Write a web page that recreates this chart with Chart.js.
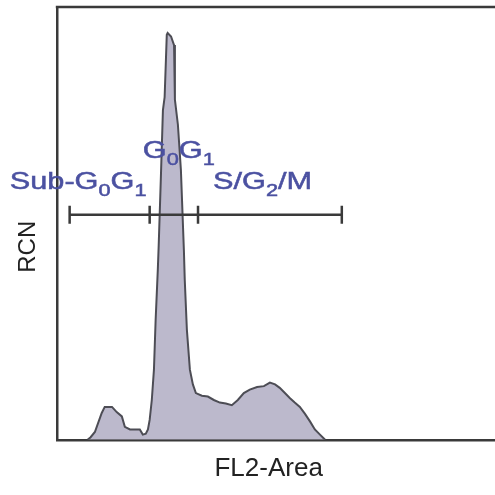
<!DOCTYPE html>
<html>
<head>
<meta charset="utf-8">
<script src="https://cdn.jsdelivr.net/npm/chart.js@4.4.1/dist/chart.umd.min.js"></script>
<style>
  body { margin: 0; background: #fff; overflow: hidden; }
</style>
</head>
<body>
<canvas id="histChart" width="495" height="495"></canvas>
<script>
// FL2-Area channel vs relative cell number
var channel = [72, 79, 89, 105, 112, 129, 140, 152, 159, 171, 194, 201, 208, 213, 217, 222, 227, 231, 236, 238,
  243, 248, 252, 255, 257, 259, 267, 274, 276, 283, 290, 297, 299, 304, 311, 318, 325, 339, 353, 367,
  381, 395, 409, 423, 437, 451, 468, 484, 498, 510, 521, 533, 545, 556, 568, 580, 592, 603, 615, 627];
var counts = [0, 3, 9, 31, 38, 38, 32, 27, 15, 12, 12, 6, 7, 12, 23, 46, 81, 139, 196, 223,
  300, 381, 396, 439, 468, 470, 466, 456, 393, 364, 312, 219, 185, 127, 81, 64, 54, 51, 50, 46,
  43, 42, 40, 46, 54, 58, 61, 62, 66, 64, 60, 54, 48, 43, 38, 30, 21, 12, 6, 0];

// gate markers and level
var gateEdges = [30, 217, 330, 666];
var gateLevel = 260;

// phase labels: [text, is subscript] pieces, left x, baseline y (data units)
var phaseLabels = [
  { parts: [["Sub-G", false], ["0", true], ["G", false], ["1", true]], x: -110, y: 290 },
  { parts: [["G", false], ["0", true], ["G", false], ["1", true]], x: 201, y: 326 },
  { parts: [["S/G", false], ["2", true], ["/M", false]], x: 365, y: 290 }
];

var histPoints = channel.map(function (c, i) { return { x: c, y: counts[i] }; });
var gatePoints = gateEdges.map(function (c) { return { x: c, y: gateLevel }; });

var framePlugin = {
  id: 'frame',
  afterDraw: function (chart) {
    var ctx = chart.ctx, a = chart.chartArea;
    var xs = chart.scales.x, ys = chart.scales.y;
    ctx.save();
    // top edge of the box
    ctx.strokeStyle = '#3a3a3a';
    ctx.lineWidth = 2.5;
    ctx.beginPath();
    ctx.moveTo(a.left - 1, a.top);
    ctx.lineTo(a.right + 2, a.top);
    ctx.stroke();

    ctx.fillStyle = '#4b51a1';
    ctx.strokeStyle = '#4b51a1';
    ctx.lineWidth = 0.5;
    ctx.textBaseline = 'alphabetic';
    phaseLabels.forEach(function (lab) {
      var px = xs.getPixelForValue(lab.x);
      var py = ys.getPixelForValue(lab.y);
      ctx.save();
      ctx.translate(px, py);
      ctx.scale(1.28, 1);
      var cx = 0;
      lab.parts.forEach(function (p) {
        ctx.font = p[1] ? '17px "Liberation Sans", Arial, sans-serif' : '24px "Liberation Sans", Arial, sans-serif';
        ctx.fillText(p[0], cx, p[1] ? 7 : 0);
        ctx.strokeText(p[0], cx, p[1] ? 7 : 0);
        cx += ctx.measureText(p[0]).width;
      });
      ctx.restore();
    });
    ctx.restore();
  }
};

var ctxH = document.getElementById('histChart').getContext('2d');
var histChart = new Chart(ctxH, {
  type: 'line',
  data: {
    datasets: [{
      label: 'gate',
      data: gatePoints,
      order: 0,
      borderColor: '#3a3a3a',
      borderWidth: 2.5,
      pointStyle: 'line',
      rotation: 90,
      pointRadius: 9,
      pointBorderWidth: 2.5,
      pointBorderColor: '#3a3a3a',
      fill: false
    }, {
      label: 'RCN',
      data: histPoints,
      order: 1,
      borderColor: '#4d4d55',
      borderWidth: 2,
      backgroundColor: '#bcb9cc',
      fill: 'origin',
      pointRadius: 0,
      tension: 0
    }]
  },
  options: {
    responsive: false,
    animation: false,
    layout: { autoPadding: false, padding: { left: 10, top: 7, right: 0, bottom: 0 } },
    plugins: { legend: { display: false }, tooltip: { enabled: false } },
    scales: {
      x: {
        type: 'linear',
        min: 0,
        max: 1024,
        grid: { display: false, drawTicks: false },
        ticks: { display: false },
        border: { display: true, color: '#3a3a3a', width: 2.5 },
        title: {
          display: true,
          text: 'FL2-Area\u00a0\u00a0',
          color: '#222',
          font: { family: '"Liberation Sans", Arial, sans-serif', size: 26 },
          padding: { top: 13, bottom: 11 }
        }
      },
      y: {
        min: 0,
        max: 500,
        grid: { display: false, drawTicks: false },
        ticks: { display: false },
        border: { display: true, color: '#3a3a3a', width: 2.5 },
        title: {
          display: true,
          text: 'RCN\u00a0\u00a0\u00a0\u00a0\u00a0\u00a0\u00a0',
          color: '#222',
          font: { family: '"Liberation Sans", Arial, sans-serif', size: 24 },
          padding: { top: 4, bottom: 14 }
        }
      }
    }
  },
  plugins: [framePlugin]
});
</script>
</body>
</html>
